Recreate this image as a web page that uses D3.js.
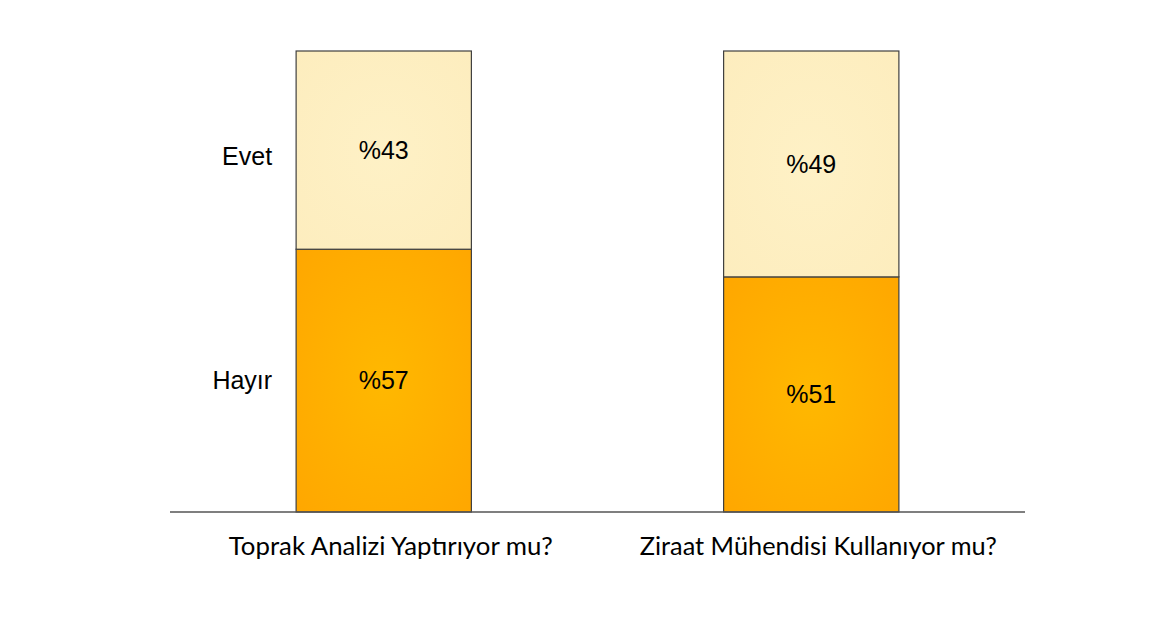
<!DOCTYPE html>
<html><head><meta charset="utf-8">
<script src="https://cdn.jsdelivr.net/npm/d3@7"></script>
<style>body{margin:0;background:#fff}svg{display:block}</style>
</head><body>
<svg id="c" width="1170" height="617"></svg>
<script>
const categories = ["Toprak Analizi Yaptırıyor mu?", "Ziraat Mühendisi Kullanıyor mu?"];
const seriesNames = ["Hayır", "Evet"];
const hayir = [57, 51];
const evet = [43, 49];

const svg = d3.select("#c");
const defs = svg.append("defs");
const gDark = defs.append("radialGradient").attr("id","gDark").attr("cx","50%").attr("cy","50%").attr("r","70%");
gDark.append("stop").attr("offset","0%").attr("stop-color","#FFB800");
gDark.append("stop").attr("offset","100%").attr("stop-color","#FFA700");
const gLight = defs.append("radialGradient").attr("id","gLight").attr("cx","50%").attr("cy","50%").attr("r","70%");
gLight.append("stop").attr("offset","0%").attr("stop-color","#FEF1C6");
gLight.append("stop").attr("offset","100%").attr("stop-color","#FDEDBE");

const x = d3.scaleBand().domain(categories).range([170, 1025]).paddingInner(0.59).paddingOuter(0.295);
const y = d3.scaleLinear().domain([0, 100]).range([512, 51]);

const data = categories.map((c,i)=>({cat:c, Hayır:hayir[i], Evet:evet[i]}));
const stack = d3.stack().keys(seriesNames)(data);
const fills = {"Hayır":"url(#gDark)","Evet":"url(#gLight)"};

const layers = svg.selectAll("g.layer").data(stack).join("g").attr("class","layer");
layers.selectAll("rect").data(d=>d.map(p=>({p, key:d.key}))).join("rect")
  .attr("x", d=>x(d.p.data.cat))
  .attr("width", x.bandwidth())
  .attr("y", d=>y(d.p[1]))
  .attr("height", d=>y(d.p[0])-y(d.p[1]))
  .attr("fill", d=>fills[d.key])
  .attr("stroke","#3f3f3f").attr("stroke-width",1.2);

layers.selectAll("text").data(d=>d.map(p=>({p, key:d.key}))).join("text")
  .attr("x", d=>x(d.p.data.cat)+x.bandwidth()/2)
  .attr("y", d=>(y(d.p[0])+y(d.p[1]))/2)
  .attr("dy","0.35em")
  .attr("text-anchor","middle")
  .attr("font-family","Liberation Sans, Arial, sans-serif")
  .attr("font-size",25).attr("fill","#000")
  .text(d=>"%"+(d.p[1]-d.p[0]));

// series labels at left of first bar
svg.selectAll("text.series").data(stack).join("text").attr("class","series")
  .attr("x", x(categories[0]) - 24)
  .attr("y", d=> d.key==="Evet" ? (y(d[0][0])+y(d[0][1]))/2 + 6 : (y(d[0][0])+y(d[0][1]))/2)
  .attr("dy","0.35em")
  .attr("text-anchor","end")
  .attr("font-family","Liberation Sans, Arial, sans-serif")
  .attr("font-size",25).attr("fill","#000")
  .text(d=>d.key);

// x axis
const axis = svg.append("g").attr("transform","translate(0,512)").call(d3.axisBottom(x).tickSize(0).tickPadding(25));
axis.select(".domain").attr("stroke","#555").attr("stroke-width",1.5).attr("d","M170,0H1025");
const targetW = [324, 357];
axis.selectAll(".tick text")
  .attr("font-family","Lato, 'Open Sans', sans-serif")
  .attr("font-size",25).attr("fill","#000")
  .attr("dx","7")
  .attr("textLength",(d,i)=>targetW[i])
  .attr("lengthAdjust","spacingAndGlyphs");
</script>
</body></html>
